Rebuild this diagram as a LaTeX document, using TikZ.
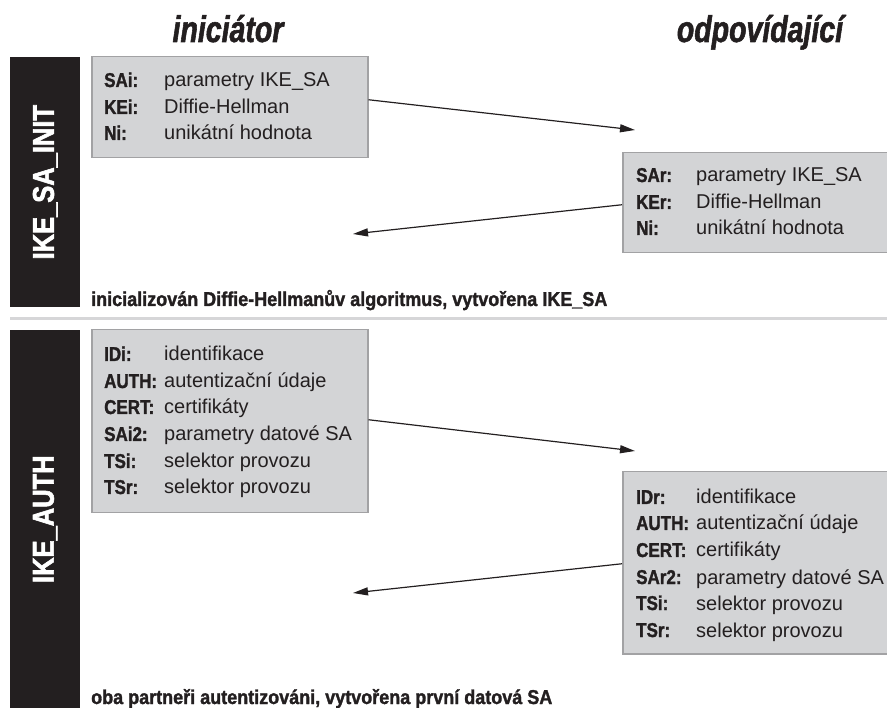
\documentclass[tikz,border=0pt]{standalone}
\usepackage{fontspec}
\setmainfont{Liberation Sans}
\newfontfamily\hdrfont[FakeStretch=0.77,FakeBold=1.5]{Liberation Sans Bold Italic}
\newfontfamily\lblfont[FakeStretch=0.85,FakeBold=1.5]{Liberation Sans Bold}
\newfontfamily\notefont[FakeStretch=0.9,FakeBold=1.5]{Liberation Sans Bold}
\newfontfamily\barfont[FakeStretch=0.85,FakeBold=2]{Liberation Sans Bold}
\usetikzlibrary{arrows.meta}
\definecolor{boxfill}{HTML}{D3D4D6}
\definecolor{boxline}{HTML}{A2A2A4}
\definecolor{barblack}{HTML}{231F20}
\definecolor{sepgray}{HTML}{D6D6D8}
\tikzset{
  msgbox/.style={draw=boxline, line width=1.5pt, fill=boxfill, rectangle, inner sep=0pt, anchor=north west},
  lbl/.style={anchor=base west, inner sep=0pt, font=\lblfont\fontsize{20}{22}\selectfont, text=barblack},
  val/.style={anchor=base west, inner sep=0pt, font=\fontsize{20}{22}\selectfont, text=barblack},
  note/.style={anchor=base west, inner sep=0pt, font=\notefont\fontsize{20}{22}\selectfont, text=barblack},
  hdr/.style={anchor=base, inner sep=0pt, font=\hdrfont\fontsize{37}{40}\selectfont, text=barblack},
  phasebar/.style={fill=barblack, draw=none, rectangle, inner sep=0pt, anchor=north west, minimum width=70pt},
  barlabel/.style={rotate=90, text=white, inner sep=0pt, font=\barfont\fontsize{30}{32}\selectfont},
  arr/.style={draw=barblack, line width=1.2pt, -{Triangle[length=15pt,width=8pt]}}
}
\begin{document}
\begin{tikzpicture}[x=1pt,y=-1pt]
\useasboundingbox (0,0) rectangle (887,708);
% headers
\node[hdr] (hi) at (228,42) {iniciátor};
\node[hdr] (hr) at (760,42) {odpovídající};
% phase bars
\node[phasebar, minimum height=250pt] (bar1) at (10,57) {};
\node[barlabel] (bl1) at (bar1.center) {IKE\_SA\_INIT};
\node[phasebar, minimum height=378pt] (bar2) at (10,330) {};
\node[barlabel] (bl2) at (bar2.center) {IKE\_AUTH};
% separator
\draw[sepgray, line width=3pt] (10,319) -- (887,319);
% section 1 boxes
\node[msgbox, minimum width=276pt, minimum height=101pt] (b1) at (91,56) {};
\node[lbl] (b1l1) at (104,87) {SAi:};
\node[val] (b1v1) at (164,87) {parametry IKE\_SA};
\node[lbl] (b1l2) at (104,114) {KEi:};
\node[val] (b1v2) at (164,114) {Diffie-Hellman};
\node[lbl] (b1l3) at (104,140) {Ni:};
\node[val] (b1v3) at (164,140) {unikátní hodnota};

\node[msgbox, minimum width=266pt, minimum height=100pt] (b2) at (622,152) {};
\node[lbl] (b2l1) at (636,182) {SAr:};
\node[val] (b2v1) at (696,182) {parametry IKE\_SA};
\node[lbl] (b2l2) at (636,209) {KEr:};
\node[val] (b2v2) at (696,209) {Diffie-Hellman};
\node[lbl] (b2l3) at (636,235) {Ni:};
\node[val] (b2v3) at (696,235) {unikátní hodnota};

\coordinate (t1) at (635,130);
\coordinate (t2) at (353,234);
\draw[arr] ([yshift=7.5pt]b1.east) -- (t1);
\draw[arr] ([yshift=-2pt]b2.west) -- (t2);

\node[note] (n1) at (91,306) {inicializován Diffie-Hellmanův algoritmus, vytvořena IKE\_SA};

% section 2 boxes
\node[msgbox, minimum width=276pt, minimum height=183pt] (b3) at (91,329) {};
\node[lbl] (b3l1) at (104,361) {IDi:};
\node[val] (b3v1) at (164,361) {identifikace};
\node[lbl] (b3l2) at (104,388) {AUTH:};
\node[val] (b3v2) at (164,388) {autentizační údaje};
\node[lbl] (b3l3) at (104,414) {CERT:};
\node[val] (b3v3) at (164,414) {certifikáty};
\node[lbl] (b3l4) at (104,441) {SAi2:};
\node[val] (b3v4) at (164,441) {parametry datové SA};
\node[lbl] (b3l5) at (104,468) {TSi:};
\node[val] (b3v5) at (164,468) {selektor provozu};
\node[lbl] (b3l6) at (104,494) {TSr:};
\node[val] (b3v6) at (164,494) {selektor provozu};

\node[msgbox, minimum width=266pt, minimum height=182pt] (b4) at (622,471) {};
\node[lbl] (b4l1) at (636,504) {IDr:};
\node[val] (b4v1) at (696,504) {identifikace};
\node[lbl] (b4l2) at (636,530) {AUTH:};
\node[val] (b4v2) at (696,530) {autentizační údaje};
\node[lbl] (b4l3) at (636,557) {CERT:};
\node[val] (b4v3) at (696,557) {certifikáty};
\node[lbl] (b4l4) at (636,584) {SAr2:};
\node[val] (b4v4) at (696,584) {parametry datové SA};
\node[lbl] (b4l5) at (636,610) {TSi:};
\node[val] (b4v5) at (696,610) {selektor provozu};
\node[lbl] (b4l6) at (636,637) {TSr:};
\node[val] (b4v6) at (696,637) {selektor provozu};

\coordinate (t3) at (635,451);
\coordinate (t4) at (353,593);
\draw[arr] ([yshift=1.5pt]b3.east) -- (t3);
\draw[arr] ([yshift=-1pt]b4.west) -- (t4);

\node[note] (n2) at (91,704) {oba partneři autentizováni, vytvořena první datová SA};
\end{tikzpicture}
\end{document}
